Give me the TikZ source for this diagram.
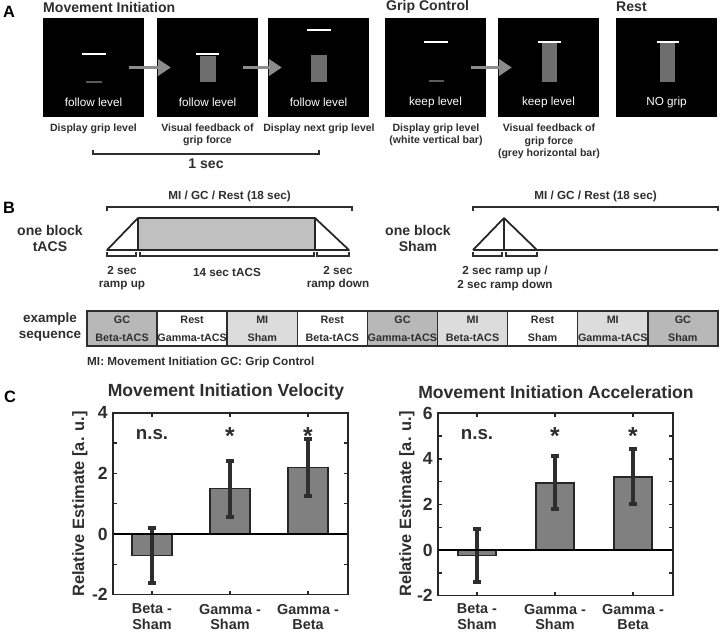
\documentclass[tikz,border=0pt]{standalone}
\usepackage{fontspec}
\setmainfont{Liberation Sans}
\usetikzlibrary{arrows.meta,calc}

\definecolor{inkgray}{HTML}{2E2E2E}
\definecolor{cuegray}{HTML}{8C8C8C}
\definecolor{forcegray}{HTML}{6E6E6E}
\definecolor{targetgray}{HTML}{5A5A5A}
\definecolor{gcfill}{HTML}{B8B8B8}
\definecolor{mifill}{HTML}{DCDCDC}
\definecolor{stimfill}{HTML}{C0C0C0}
\definecolor{barfill}{HTML}{808080}

\begin{document}
\begin{tikzpicture}[
    x=0.03cm, y=-0.03cm,
    every node/.style={inner sep=0pt, text=inkgray},
    paneltag/.style={font=\bfseries\fontsize{14}{16}\selectfont, text=black},
    heading/.style={font=\bfseries\fontsize{12}{14}\selectfont, anchor=west},
    screen/.style={fill=black, minimum width=3.03cm, minimum height=2.97cm},
    screentext/.style={text=white, font=\fontsize{10}{12}\selectfont},
    caption/.style={font=\bfseries\fontsize{9}{10.6}\selectfont, align=center},
    level/.style={draw=white, line width=1.7pt},
    target/.style={draw=targetgray, line width=1.3pt},
    force/.style={fill=forcegray},
    cue/.style={-{Triangle[length=11pt, width=14pt]}, line width=3.4pt, draw=cuegray},
    bracket/.style={draw=inkgray, line width=1.2pt},
    rampline/.style={draw=black!85, line width=1.5pt, line join=round},
    blocklabel/.style={font=\bfseries\fontsize{12}{13}\selectfont, align=center},
    steplabel/.style={font=\bfseries\fontsize{10}{11}\selectfont, align=center},
    seqbox/.style={draw=inkgray, line width=1.3pt, minimum width=2.103cm, minimum height=1.05cm,
        align=center, font=\bfseries\fontsize{9.2}{15.3}\selectfont},
    charttitle/.style={font=\bfseries\fontsize{15}{17}\selectfont},
    ticklabel/.style={font=\bfseries\fontsize{15}{17}\selectfont, anchor=east},
    axislabel/.style={font=\bfseries\fontsize{14}{16}\selectfont, rotate=90},
    grouplabel/.style={font=\bfseries\fontsize{12.3}{13.6}\selectfont, align=center},
    signif/.style={font=\bfseries\fontsize{16}{18}\selectfont},
    star/.style={font=\bfseries\fontsize{21}{22}\selectfont},
    axisline/.style={draw=black!85, line width=1.2pt},
    barbox/.style={fill=barfill, draw=black!85, line width=1.2pt},
    errbar/.style={draw=inkgray, line width=2.9pt},
]
\useasboundingbox (0,0) rectangle (720,632);

% A: task screens
\node[paneltag] (tagA) at (9,12) {A};
\node[heading] (miHead) at (43,7) {Movement Initiation};
\node[heading] (gcHead) at (386,7) {Grip Control};
\node[heading] (restHead) at (616,7) {Rest};

\node[screen] (mi1) at (93.5,67.5) {};
\node[screen] (mi2) at (207.5,67.5) {};
\node[screen] (mi3) at (318.5,67.5) {};
\node[screen] (gc1) at (435.5,67.5) {};
\node[screen] (gc2) at (548.5,67.5) {};
\node[screen] (rest) at (666.5,67.5) {};

\draw[level] (82,54) -- (106,54);
\draw[target] (86,82) -- (102,82);
\fill[force] (200,56) rectangle (216,82);
\draw[level] (196,54) -- (219,54);
\draw[level] (307,30) -- (331,30);
\fill[force] (311,55) rectangle (327,82);
\draw[level] (424,42) -- (448,42);
\draw[target] (429,81) -- (444,81);
\fill[force] (542,43) rectangle (557,82);
\draw[level] (538,42) -- (561,42);
\fill[force] (660,43) rectangle (675,82);
\draw[level] (657,42) -- (679,42);

\node[screentext] (mi1txt) at (93.5,102) {follow level};
\node[screentext] (mi2txt) at (207.5,102) {follow level};
\node[screentext] (mi3txt) at (318.5,102) {follow level};
\node[screentext] (gc1txt) at (435.5,102) {keep level};
\node[screentext] (gc2txt) at (548.5,102) {keep level};
\node[screentext] (resttxt) at (666.5,102) {NO grip};

\draw[cue] ($(mi1.east)+(-15,0)$) -- ($(mi2.west)+(14,0)$);
\draw[cue] ($(mi2.east)+(-15,0)$) -- ($(mi3.west)+(14,0)$);
\draw[cue] ($(gc1.east)+(-15,0)$) -- ($(gc2.west)+(14,0)$);

\node[caption] (cap1) at (93.5,129) {Display grip level};
\node[caption] (cap2) at (207.5,135) {Visual feedback of\\grip force};
\node[caption] (cap3) at (319,129) {Display next grip level};
\node[caption] (cap4) at (436,135) {Display grip level\\(white vertical bar)};
\node[caption] (cap5) at (549,141.5) {Visual feedback of\\grip force\\(grey horizontal bar)};

\draw[bracket] (93,150) -- (93,154) -- (319,154) -- (319,150);
\node[blocklabel] (onesec) at (206,164) {1 sec};

% B: stimulation blocks
\node[paneltag] (tagB) at (9,208) {B};
\node[blocklabel] (tacsLbl) at (50,238.5) {one block\\tACS};
\node[blocklabel] (shamLbl) at (418,238.5) {one block\\Sham};

\node[steplabel] (tacsLen) at (229.5,196) {MI / GC / Rest (18 sec)};
\draw[bracket] (107,211) -- (107,207) -- (352,207) -- (352,211);
\fill[stimfill] (138,218) rectangle (315,250);
\draw[rampline] (107,250) -- (138,218) -- (315,218) -- (349,250) -- cycle;
\draw[rampline] (138,218) -- (138,250) (315,218) -- (315,250);
\draw[bracket] (107,252) -- (107,256) -- (136,256) -- (136,252);
\draw[bracket] (140,252) -- (140,256) -- (314,256) -- (314,252);
\draw[bracket] (317,252) -- (317,256) -- (349,256) -- (349,252);
\node[steplabel] (rampUp) at (122,278.5) {2 sec\\ramp up};
\node[steplabel] (plateau) at (227,272) {14 sec tACS};
\node[steplabel] (rampDown) at (338,278.5) {2 sec\\ramp down};

\node[steplabel] (shamLen) at (595.5,196) {MI / GC / Rest (18 sec)};
\draw[bracket] (473,211) -- (473,207) -- (718,207) -- (718,211);
\draw[rampline] (473,250) -- (504,218) -- (537,250);
\draw[rampline] (504,218) -- (504,250);
\draw[rampline] (473,250) -- (718,250);
\draw[bracket] (473,252) -- (473,256) -- (502,256) -- (502,252);
\draw[bracket] (506,252) -- (506,256) -- (537,256) -- (537,252);
\node[steplabel, font=\bfseries\fontsize{10}{12}\selectfont] (shamRamp) at (505,278) {2 sec ramp up /\\2 sec ramp down};

\node[blocklabel, font=\bfseries\fontsize{11.5}{13.6}\selectfont] (seqLbl) at (50,327) {example\\sequence};
\foreach \task/\stim/\shade [count=\i] in {GC/Beta-tACS/gcfill, Rest/Gamma-tACS/white,
    MI/Sham/mifill, Rest/Beta-tACS/white, GC/Gamma-tACS/gcfill, MI/Beta-tACS/mifill,
    Rest/Sham/white, MI/Gamma-tACS/mifill, GC/Sham/gcfill}
  \node[seqbox, fill=\shade] (seq\i) at ({87+70.1*(\i-0.5)},328.5) {\task\\\stim};
\node[steplabel, anchor=west] (legend) at (87,362) {MI: Movement Initiation GC: Grip Control};

% C: bar charts
\node[paneltag] (tagC) at (10,397) {C};
\node[charttitle] (velTitle) at (226,392) {Movement Initiation Velocity};
\node[axislabel] (velAxis) at (80,504) {Relative Estimate [a. u.]};
\begin{scope}[shift={(0,534)}, y=0.909cm]
  \foreach \v in {-2,0,2,4}
    \node[ticklabel] (velTick\v) at (108,\v) {\v};
  \foreach \v in {-1,...,3}
    \draw[axisline] (113,\v) -- ++(4,0) (348,\v) -- ++(-4,0);
  \foreach \cx/\val/\lo/\hi in {152/-0.7/-1.62/0.2, 230/1.5/0.56/2.41, 308/2.2/1.25/3.13} {
    \draw[barbox] (\cx-20,0) rectangle (\cx+20,\val);
    \draw[axisline] (\cx,-2) -- ++(0,0.13) (\cx,4) -- ++(0,-0.13);
    \draw[errbar] (\cx,\lo) -- (\cx,\hi) (\cx-4,\lo) -- (\cx+4,\lo) (\cx-4,\hi) -- (\cx+4,\hi);
  }
  \draw[black, line width=0.9pt] (113,0) -- (348,0);
  \draw[axisline] (113,-2) rectangle (348,4);
\end{scope}
\node[signif] (velNs) at (152,435) {n.s.};
\node[star] (velStar1) at (230,436) {*};
\node[star] (velStar2) at (308,436) {*};
\node[grouplabel] (velG1) at (152,617) {Beta -\\Sham};
\node[grouplabel] (velG2) at (230,617) {Gamma -\\Sham};
\node[grouplabel] (velG3) at (308,617) {Gamma -\\Beta};

\node[charttitle] (accTitle) at (556,392) {Movement Initiation Acceleration};
\node[axislabel] (accAxis) at (407,504) {Relative Estimate [a. u.]};
\begin{scope}[shift={(0,550)}, y=0.684cm]
  \foreach \v in {-2,0,2,4,6}
    \node[ticklabel] (accTick\v) at (433,\v) {\v};
  \foreach \v in {-1,...,5}
    \draw[axisline] (438,\v) -- ++(4,0) (673,\v) -- ++(-4,0);
  \foreach \cx/\val/\lo/\hi in {477/-0.25/-1.4/0.92, 555/2.94/1.8/4.12, 633/3.2/2.02/4.43} {
    \draw[barbox] (\cx-19,0) rectangle (\cx+19,\val);
    \draw[axisline] (\cx,-2) -- ++(0,0.17) (\cx,6) -- ++(0,-0.17);
    \draw[errbar] (\cx,\lo) -- (\cx,\hi) (\cx-4,\lo) -- (\cx+4,\lo) (\cx-4,\hi) -- (\cx+4,\hi);
  }
  \draw[black, line width=0.9pt] (438,0) -- (673,0);
  \draw[axisline] (438,-2) rectangle (673,6);
\end{scope}
\node[signif] (accNs) at (477,435) {n.s.};
\node[star] (accStar1) at (555,436) {*};
\node[star] (accStar2) at (633,436) {*};
\node[grouplabel] (accG1) at (477,617) {Beta -\\Sham};
\node[grouplabel] (accG2) at (555,617) {Gamma -\\Sham};
\node[grouplabel] (accG3) at (633,617) {Gamma -\\Beta};
\end{tikzpicture}
\end{document}
